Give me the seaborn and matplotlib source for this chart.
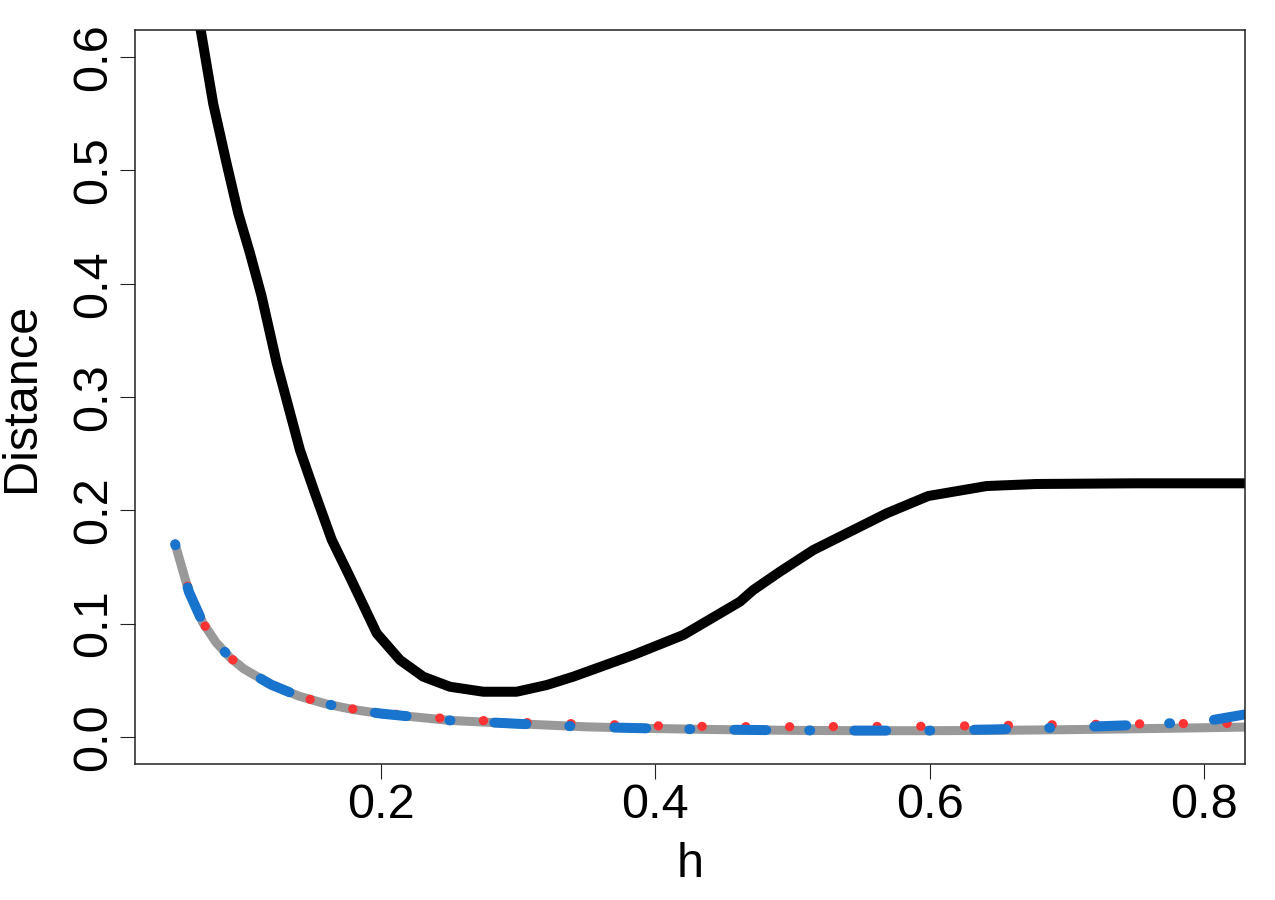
import numpy as np
import pandas as pd
import seaborn as sns
import matplotlib.pyplot as plt

# values
h_grid = [0.05, 0.06, 0.07, 0.08, 0.09, 0.10, 0.12, 0.14, 0.16, 0.18, 0.20, 0.25,
          0.30, 0.35, 0.40, 0.45, 0.50, 0.55, 0.60, 0.65, 0.70, 0.75, 0.80, 0.85]
gray_d = [0.170, 0.128, 0.101, 0.083, 0.070, 0.060, 0.046, 0.036, 0.029, 0.024, 0.0205, 0.0145,
          0.0115, 0.0088, 0.0073, 0.0063, 0.0057, 0.0054, 0.0054, 0.0057, 0.0063, 0.0071, 0.0080, 0.0090]
red_d = [0.170, 0.129, 0.101, 0.083, 0.070, 0.060, 0.046, 0.036, 0.029, 0.0245, 0.021, 0.0158,
         0.0127, 0.0113, 0.0097, 0.0090, 0.0089, 0.0091, 0.0093, 0.0100, 0.0108, 0.0114, 0.0118, 0.0120]
blue_d = [0.170, 0.128, 0.101, 0.083, 0.070, 0.060, 0.046, 0.036, 0.029, 0.024, 0.0205, 0.0145,
          0.0115, 0.0088, 0.0073, 0.0063, 0.0057, 0.0055, 0.0055, 0.0066, 0.0083, 0.0104, 0.0135, 0.0240]

black_h = [0.05, 0.06, 0.0686, 0.0777, 0.0875, 0.096, 0.1045, 0.113, 0.124, 0.1313, 0.141,
           0.1519, 0.1641, 0.1774, 0.1969, 0.2139, 0.2308, 0.2503, 0.2746, 0.2989, 0.3208,
           0.3402, 0.3839, 0.4204, 0.4617, 0.4714, 0.4909, 0.5152, 0.5687, 0.599, 0.6416,
           0.678, 0.75, 0.85]
black_d = [0.76, 0.69, 0.624, 0.559, 0.506, 0.462, 0.427, 0.389, 0.330, 0.297, 0.253,
           0.215, 0.174, 0.141, 0.0914, 0.0678, 0.0531, 0.0442, 0.0398, 0.0398, 0.0457,
           0.0531, 0.0722, 0.0899, 0.1193, 0.1296, 0.1458, 0.1649, 0.1973, 0.2126, 0.2214,
           0.2232, 0.2238, 0.2238]

x_ticks = [0.2, 0.4, 0.6, 0.8]
y_ticks = [0.0, 0.1, 0.2, 0.3, 0.4, 0.5, 0.6]

sns.set_style('ticks')
plt.rcParams['font.family'] = ['Liberation Sans', 'DejaVu Sans']
plt.rcParams['text.color'] = 'black'
plt.rcParams['axes.labelcolor'] = 'black'
plt.rcParams['lines.scale_dashes'] = False  # dash lengths in points

fig = plt.figure(figsize=(12.75, 9), dpi=100)
ax = fig.add_axes([135 / 1275, 1 - 764 / 900, 1110 / 1275, 734 / 900])

sns.lineplot(x=black_h, y=black_d, color='black', linewidth=7.2,
             solid_capstyle='round', solid_joinstyle='round', ax=ax)
sns.lineplot(x=h_grid, y=gray_d, color='#999999', linewidth=6.5,
             solid_capstyle='round', ax=ax)
sns.lineplot(x=h_grid, y=red_d, color='#FF3333', linewidth=6.7,
             linestyle=(0, (0.1, 31.4)), dash_capstyle='round', ax=ax)
sns.lineplot(x=h_grid, y=blue_d, color='#1874CD', linewidth=7.2,
             linestyle=(0, (0.7, 31.7, 23.0, 31.0)), dash_capstyle='round', ax=ax)

ax.set_xlim(0.0207, 0.8299)
ax.set_ylim(-0.024, 0.624)
ax.set_xticks(x_ticks)
ax.set_xticklabels([f'{t:.1f}' for t in x_ticks])
ax.set_yticks(y_ticks)
ax.set_yticklabels([f'{t:.1f}' for t in y_ticks], rotation=90, va='center')

for s in ax.spines.values():
    s.set_visible(True)
    s.set_linewidth(1.1)
    s.set_color('#222222')
ax.tick_params(length=10.8, width=0.8, labelsize=35, pad=3,
               color='#222222', labelcolor='black')

ax.set_xlabel('h', fontsize=35, labelpad=10, color='black')
ax.set_ylabel('Distance', fontsize=35, labelpad=19, color='black')

fig.savefig('out.png', dpi=100)
